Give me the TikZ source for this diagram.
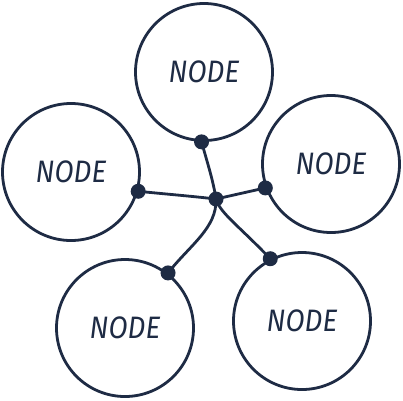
\documentclass[tikz,border=0pt]{standalone}
\usepackage{fontspec}
\newfontfamily\handfont{Fira Sans}[FakeStretch=0.9]
\definecolor{ink}{HTML}{1E2B44}
\begin{document}
\begin{tikzpicture}[x=1pt,y=-1pt,
  bubble/.style={circle,draw=ink,line width=2.8pt,minimum size=137pt,inner sep=0pt,
    text=ink,font=\handfont\itshape\fontsize{31}{31}\selectfont},
  link/.style={draw=ink,line width=2.8pt},
  knob/.style={fill=ink}]
\useasboundingbox (0,0) rectangle (403,400);
\node[bubble] (top) at (204,72) {NODE};
\node[bubble] (left) at (71,172) {NODE};
\node[bubble] (right) at (331,164) {NODE};
\node[bubble] (bl) at (125,328) {NODE};
\node[bubble] (br) at (302,321) {NODE};
\coordinate (hub) at (216,199);
\path[link] (top.-92) .. controls (208,165) and (213,180) .. (hub);
\path[link] (left.-16) .. controls (165,194) and (190,196) .. (hub);
\path[link] (right.-160) -- (hub);
\path[link] (hub) .. controls (217,228) and (190,245) .. (bl.52);
\path[link] (hub) .. controls (220,213) and (238,225) .. (br.117);
\fill[knob] (hub) circle (7.5pt);
\fill[knob] (top.-92) circle (7.5pt);
\fill[knob] (left.-16) circle (7.5pt);
\fill[knob] (right.-160) circle (7.5pt);
\fill[knob] (bl.52) circle (7.5pt);
\fill[knob] (br.117) circle (7.5pt);
\end{tikzpicture}
\end{document}
